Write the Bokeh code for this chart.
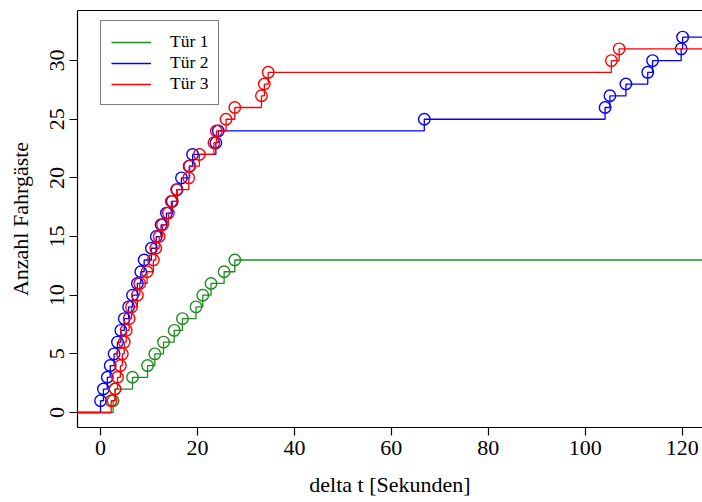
from bokeh.plotting import figure
from bokeh.models import Legend, LegendItem, LinearAxis, FixedTicker, Range1d
from bokeh.embed import file_html
from bokeh.resources import INLINE

# Arrival times (seconds after door opening) at which the passenger count steps up by one
tuer1_t = [2.6, 3.0, 6.6, 9.7, 11.2, 13.0, 15.2, 16.9, 19.7, 21.1, 22.8, 25.5, 27.7]
tuer1_n = list(range(1, 14))

tuer2_t = [0.0, 0.6, 1.4, 2.0, 2.8, 3.5, 4.2, 4.9, 5.8, 6.6, 7.6, 8.3, 9.0, 10.5,
           11.5, 12.5, 13.6, 14.8, 15.8, 16.7, 18.3, 19.0, 23.8, 24.3, 66.8,
           104.1, 105.1, 108.4, 112.9, 113.9, 119.8, 120.1]
tuer2_n = list(range(1, 33))

tuer3_t = [2.2, 3.0, 3.5, 4.1, 4.5, 4.9, 5.3, 5.9, 6.4, 7.6, 8.1, 9.6, 10.9, 11.4,
           12.1, 12.8, 14.0, 14.6, 15.7, 18.2, 18.4, 20.4, 23.4, 23.9, 25.9, 27.7,
           33.2, 33.8, 34.6, 105.4, 107.0]
tuer3_n = list(range(1, 32))

series_names = ["Tür 1", "Tür 2", "Tür 3"]
series_colors = ["#1f8b1f", "#0000ff", "#ff0000"]

x_ticks = [0, 20, 40, 60, 80, 100, 120]
y_ticks = [0, 5, 10, 15, 20, 25, 30]

X0, X1 = -4.75, 124.2
Y0, Y1 = -1.28, 34.27

FONT = "Liberation Serif"

p = figure(width=702, height=502, output_backend="svg", toolbar_location=None,
           x_range=Range1d(X0, X1), y_range=Range1d(Y0, Y1),
           min_border_left=77, min_border_right=0, min_border_top=10,
           min_border_bottom=75, x_axis_type=None, y_axis_type=None)
p.outline_line_color = None
p.xgrid.visible = False
p.ygrid.visible = False
p.background_fill_color = "white"
p.border_fill_color = "white"


def style_axis(ax):
    ax.axis_line_color = "black"
    ax.axis_line_width = 1.2
    ax.major_tick_line_color = "black"
    ax.major_tick_line_width = 1.2
    ax.major_tick_in = 0
    ax.major_tick_out = 8
    ax.minor_tick_line_color = None
    ax.major_label_text_font = FONT
    ax.major_label_text_font_size = "22px"
    ax.major_label_text_color = "black"
    ax.axis_label_text_font = FONT
    ax.axis_label_text_font_size = "22px"
    ax.axis_label_text_font_style = "normal"
    ax.axis_label_text_color = "black"


xaxis = LinearAxis(ticker=FixedTicker(ticks=x_ticks), axis_label="delta t [Sekunden]")
style_axis(xaxis)
xaxis.major_label_standoff = 5
xaxis.axis_label_standoff = 14
p.add_layout(xaxis, "below")

yaxis = LinearAxis(ticker=FixedTicker(ticks=y_ticks), axis_label="Anzahl Fahrgäste")
style_axis(yaxis)
yaxis.major_label_orientation = "parallel"
yaxis.major_label_standoff = 5
yaxis.axis_label_standoff = 15
p.add_layout(yaxis, "left")

# plain top border of the plotting box
topaxis = LinearAxis(ticker=FixedTicker(ticks=[]))
topaxis.axis_line_color = "black"
topaxis.axis_line_width = 1.2
topaxis.major_tick_line_color = None
topaxis.minor_tick_line_color = None
topaxis.major_label_text_font_size = "0px"
topaxis.major_label_standoff = 0
p.add_layout(topaxis, "above")

items = []
for name, color, t, n in zip(series_names, series_colors,
                             [tuer1_t, tuer2_t, tuer3_t],
                             [tuer1_n, tuer2_n, tuer3_n]):
    xs = [X0] + t + [X1]
    ys = [0] + n + [n[-1]]
    line = p.step(xs, ys, mode="after", line_color=color, line_width=1.3)
    p.scatter(t, n, marker="circle", size=11.5, fill_color=None,
              line_color=color, line_width=1.4)
    items.append(LegendItem(label=name, renderers=[line]))

legend = Legend(items=items, location=(23, 322))
legend.border_line_color = "black"
legend.border_line_width = 1.2
legend.background_fill_color = "white"
legend.background_fill_alpha = 1.0
legend.label_text_font = FONT
legend.label_text_font_size = "17.5px"
legend.label_text_color = "black"
legend.glyph_width = 40
legend.glyph_height = 18
legend.label_height = 18
legend.label_standoff = 19
legend.spacing = 0
legend.padding = 10
legend.margin = 0
p.add_layout(legend)

open("out.html", "w").write(file_html(p, INLINE))
